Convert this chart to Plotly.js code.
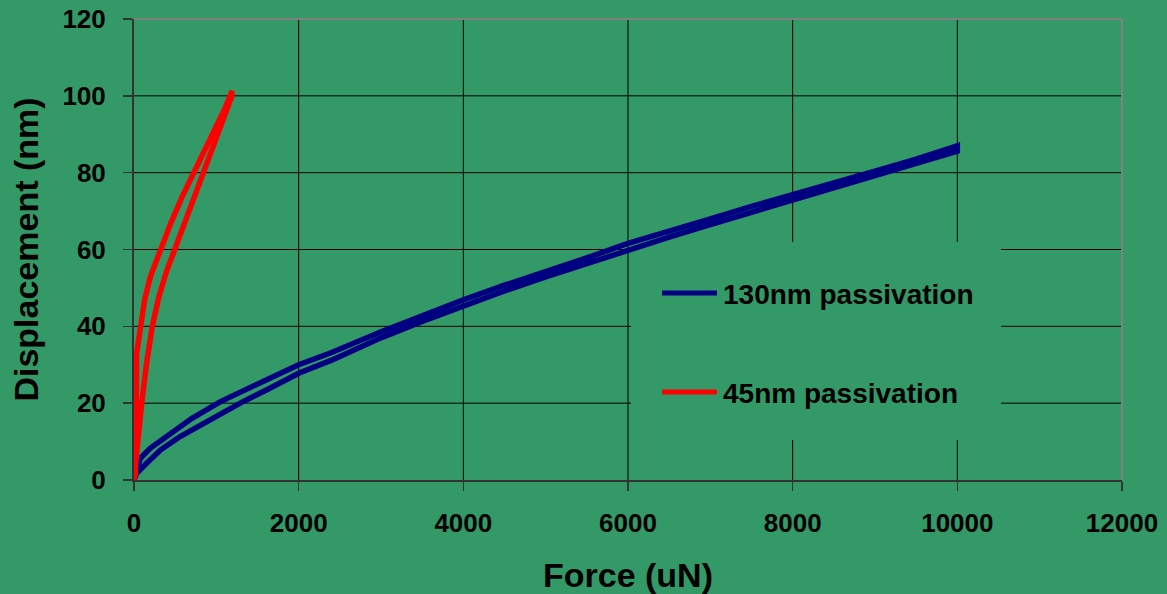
<!DOCTYPE html>
<html>
<head>
<meta charset="utf-8">
<script src="https://cdn.plot.ly/plotly-3.0.1.min.js"></script>
<style>html,body{margin:0;padding:0;background:#339966;}#chart{width:1167px;height:594px;}</style>
</head>
<body>
<div id="chart"></div>
<script>
// 130nm passivation: loading then unloading
var force130 = [0, 30, 150, 320, 560, 920, 1290, 1650, 2000, 2400, 3000, 3500, 4000, 4500, 5000, 5500, 6000, 6500, 7000, 7500, 8000, 8500, 9000, 9500, 10000,
                10000, 9500, 9000, 8500, 8000, 7500, 7000, 6500, 6000, 5500, 5000, 4500, 4000, 3500, 3000, 2400, 2000, 1800, 1550, 1300, 1050, 700, 450, 200, 75, 40];
var disp130  = [0, 1.7, 4.3, 7.8, 11.3, 15.6, 20.0, 23.9, 27.8, 31.2, 37.0, 41.3, 45.4, 49.2, 52.9, 56.4, 59.9, 63.2, 66.5, 69.7, 73.1, 76.1, 79.2, 82.4, 85.6,
                87.0, 83.5, 80.4, 77.4, 74.3, 71.2, 68.0, 64.8, 61.6, 57.8, 54.3, 50.7, 46.9, 42.8, 38.6, 33.2, 30.0, 28.0, 25.4, 22.8, 20.4, 16.0, 12.3, 8.3, 5.6, 3.0];
// 45nm passivation: loading then unloading
var force45 = [0, 20, 45, 93, 150, 222, 300, 390, 495, 600, 710, 830, 960, 1090, 1186,
               1192, 1186, 1100, 1000, 860, 720, 580, 450, 316, 200, 130, 81, 50, 32, 27, 22, 15];
var disp45  = [0, 5, 10, 20, 30, 40, 47.5, 54, 60, 66, 73, 80, 87, 94, 99.8,
               101.2, 101, 96.5, 92, 86, 80, 73.5, 67, 60, 53, 47, 40, 36, 33, 20, 8, 1];
var seriesNames = ['130nm passivation', '45nm passivation'];
var seriesColors = ['#000080', '#FF0000'];
var xTicks = [0, 2000, 4000, 6000, 8000, 10000, 12000];
var yTicks = [0, 20, 40, 60, 80, 100, 120];

var green = '#339966';
var fontFam = 'Liberation Sans, Arial, sans-serif';
var xMax = 12000, yMax = 120;

var traces = [
  {x: force130, y: disp130, type: 'scatter', mode: 'lines', name: seriesNames[0],
   line: {color: seriesColors[0], width: 5.5}},
  {x: force45, y: disp45, type: 'scatter', mode: 'lines', name: seriesNames[1],
   line: {color: seriesColors[1], width: 5.5}}
];

// plot area in pixels
var L = 134, R = 1122, T = 19, B = 480;
function px(x) { return (x - L) / (R - L); }
function py(y) { return (B - y) / (B - T); }
function dx(p) { return px(p) * xMax; }
function dy(p) { return py(p) * yMax; }

// legend box (px) -> data coords
var boxL = dx(631), boxR = dx(1001), boxB = dy(440), boxT = dy(242);

var shapes = [];
// gridlines drawn below traces, interrupted by the legend box
xTicks.forEach(function (v) {
  if (v <= 0 || v >= xMax) return;
  var segs = (v > boxL && v < boxR) ? [[0, boxB], [boxT, yMax]] : [[0, yMax]];
  segs.forEach(function (s) {
    shapes.push({type: 'line', xref: 'x', yref: 'y', x0: v, x1: v, y0: s[0], y1: s[1],
                 line: {color: '#000', width: 1}, layer: 'below'});
  });
});
yTicks.forEach(function (v) {
  if (v <= 0 || v >= yMax) return;
  var segs = (v > boxB && v < boxT) ? [[0, boxL], [boxR, xMax]] : [[0, xMax]];
  segs.forEach(function (s) {
    shapes.push({type: 'line', xref: 'x', yref: 'y', x0: s[0], x1: s[1], y0: v, y1: v,
                 line: {color: '#000', width: 1}, layer: 'below'});
  });
});
// grey plot-area border (top, right)
shapes.push({type: 'line', xref: 'paper', yref: 'paper', x0: 0, x1: 1, y0: 1, y1: 1, line: {color: '#808080', width: 2}, layer: 'above'});
shapes.push({type: 'line', xref: 'paper', yref: 'paper', x0: 1, x1: 1, y0: 0, y1: 1, line: {color: '#808080', width: 2}, layer: 'above'});
// legend keys
shapes.push({type: 'line', xref: 'paper', yref: 'paper', x0: px(662), x1: px(717), y0: py(293), y1: py(293), line: {color: seriesColors[0], width: 5}});
shapes.push({type: 'line', xref: 'paper', yref: 'paper', x0: px(662), x1: px(717), y0: py(392), y1: py(392), line: {color: seriesColors[1], width: 5}});

var annotations = [
  {xref: 'paper', yref: 'paper', x: px(721), y: py(294), xanchor: 'left', yanchor: 'middle', showarrow: false,
   text: seriesNames[0], font: {family: fontFam, size: 28, weight: 'bold', color: '#000'}},
  {xref: 'paper', yref: 'paper', x: px(721), y: py(393), xanchor: 'left', yanchor: 'middle', showarrow: false,
   text: seriesNames[1], font: {family: fontFam, size: 28, weight: 'bold', color: '#000'}}
];

var axisCommon = {
  showgrid: false,
  showline: true, linecolor: '#333333', linewidth: 2,
  ticks: 'outside', ticklen: 9, tickcolor: '#333333', tickwidth: 1.5,
  zeroline: false, fixedrange: true,
  tickfont: {family: fontFam, size: 26, weight: 'bold', color: '#000'}
};

var layout = {
  width: 1167, height: 594,
  paper_bgcolor: green, plot_bgcolor: green,
  margin: {l: L, r: 1167 - R, t: T, b: 594 - B},
  showlegend: false,
  font: {family: fontFam, color: '#000'},
  xaxis: Object.assign({}, axisCommon, {
    range: [0, xMax], tickvals: xTicks, ticktext: xTicks.map(String),
    ticklabelstandoff: 10,
    title: {text: 'Force (uN)', font: {family: fontFam, size: 34, weight: 'bold', color: '#000'}, standoff: 26}
  }),
  yaxis: Object.assign({}, axisCommon, {
    range: [0, yMax], tickvals: yTicks, ticktext: yTicks.map(String),
    ticklabelstandoff: 12,
    title: {text: 'Displacement (nm)', font: {family: fontFam, size: 34, weight: 'bold', color: '#000'}, standoff: 14}
  }),
  shapes: shapes,
  annotations: annotations
};

Plotly.newPlot('chart', traces, layout, {displayModeBar: false, staticPlot: true});
</script>
</body>
</html>
